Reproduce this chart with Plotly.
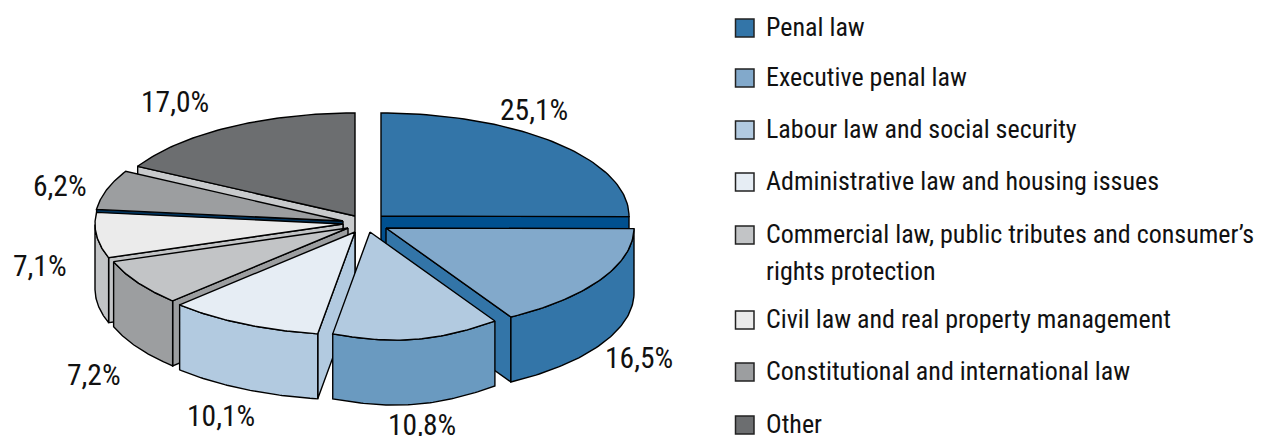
import math
import plotly.graph_objects as go

categories = ["Penal law", "Executive penal law", "Labour law and social security",
              "Administrative law and housing issues",
              "Commercial law, public tributes and consumer’s<br>rights protection",
              "Civil law and real property management",
              "Constitutional and international law", "Other"]
values = [25.1, 16.5, 10.8, 10.1, 7.2, 7.1, 6.2, 17.0]

top_colors = ["#3375a8", "#82a9cb", "#b2cae0", "#e6edf4", "#c2c4c6", "#ebebeb", "#9c9ea0", "#6c6e70"]
side_colors = ["#00508f", "#3375a8", "#6a9ac0", "#b2cae0", "#9c9ea0", "#c2c4c6", "#00335c", "#c8cacc"]
explode_x = [13, 18, 2, -13, -20, -25, -25, -13]
explode_y = [-8, 4, 8, 8, 4, 0, -3, -8]
rim_bulge = [0, 0, 0.06, 0, 0, 0, 0, 0]
label_xy = [(534, 110), (639, 358), (422, 425), (221, 416), (94, 375), (40, 266), (60, 186), (175, 102)]
legend_y = [28, 78, 130, 182, 235, 320, 372, 425]

CX, CY, RX, RY, DEPTH = 368, 224, 248, 103, 65
FONT = "Roboto Condensed, Roboto, sans-serif"
FS_LEGEND = 26
FS_LABEL = 29.5

fig = go.Figure()


def poly(pts, fill, name):
    xs = [p[0] for p in pts] + [pts[0][0]]
    ys = [p[1] for p in pts] + [pts[0][1]]
    fig.add_trace(go.Scatter(x=xs, y=ys, mode="lines", fill="toself", fillcolor=fill,
                             line=dict(color="black", width=1.4), name=name,
                             hoverinfo="name", showlegend=False))


total = sum(values)
spans = []
acc = 0.0
for v in values:
    a0 = acc / total * 2 * math.pi
    acc += v
    spans.append((a0, acc / total * 2 * math.pi))


def solid(i):
    a0, a1 = spans[i]
    ax = CX + explode_x[i]
    ay = CY + explode_y[i]
    n = 60
    angles = [a0 + (a1 - a0) * k / n for k in range(n + 1)]
    rim = [(ax + RX * math.sin(t),
            ay - RY * math.cos(t) * (1 + rim_bulge[i] * math.sin(math.pi * k / n)))
           for k, t in enumerate(angles)]
    name = categories[i].replace("<br>", " ")
    # visible cut faces
    if math.sin(a0) < 0:
        p = rim[0]
        poly([(ax, ay), p, (p[0], p[1] + DEPTH), (ax, ay + DEPTH)], side_colors[i], name)
    if math.sin(a1) > 0:
        p = rim[-1]
        poly([(ax, ay), p, (p[0], p[1] + DEPTH), (ax, ay + DEPTH)], side_colors[i], name)
    # outer wall, front part only
    front = [p for p, t in zip(rim, angles)
             if math.pi / 2 - 1e-6 <= t <= 3 * math.pi / 2 + 1e-6]
    if len(front) > 1:
        poly(front + [(x, y + DEPTH) for x, y in reversed(front)], side_colors[i], name)
    poly([(ax, ay)] + rim, top_colors[i], name)


for i in [7, 0, 6, 5, 4, 1, 3, 2]:
    solid(i)

annotations = []
for v, (x, y) in zip(values, label_xy):
    annotations.append(dict(x=x, y=y, xref="x", yref="y", showarrow=False,
                            text=f"{v:.1f}".replace(".", ",") + "%",
                            font=dict(family=FONT, size=FS_LABEL, color="#111")))
shapes = []
for c, col, y in zip(categories, top_colors, legend_y):
    shapes.append(dict(type="rect", xref="x", yref="y", x0=735.5, x1=754, y0=y - 9, y1=y + 9,
                       fillcolor=col, line=dict(color="#222", width=1.5)))
    for j, line in enumerate(c.split("<br>")):
        annotations.append(dict(x=764, y=y - 1 + j * 37, xref="x", yref="y",
                                xanchor="left", yanchor="middle",
                                align="left", showarrow=False, text=line,
                                font=dict(family=FONT, size=FS_LEGEND, color="#111")))

fig.update_layout(width=1265, height=436, margin=dict(l=0, r=0, t=0, b=0),
                  paper_bgcolor="white", plot_bgcolor="white", showlegend=False,
                  xaxis=dict(range=[0, 1265], visible=False, fixedrange=True),
                  yaxis=dict(range=[436, 0], visible=False, fixedrange=True),
                  annotations=annotations, shapes=shapes)
fig.write_html("out.html", config={"displayModeBar": False},
               post_script="document.body.style.margin='0';")
